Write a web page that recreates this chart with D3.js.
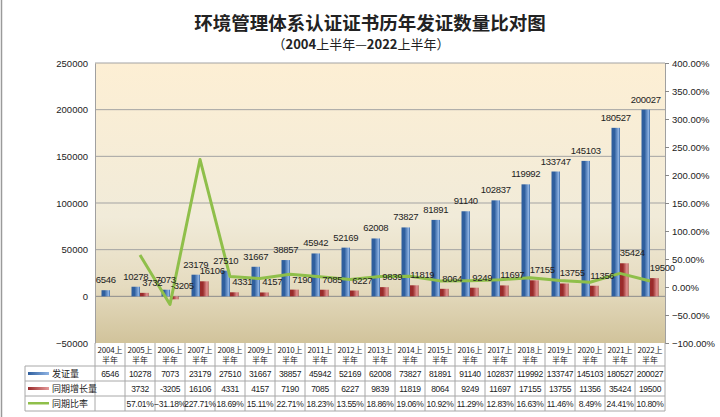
<!DOCTYPE html>
<html>
<head>
<meta charset="utf-8">
<script src="https://cdn.jsdelivr.net/npm/d3@7"></script>
<style>
  body { margin: 0; background: #fff; }
  text { font-family: "Liberation Sans", Arial, sans-serif; fill: #222; }
  .cjk { font-family: "Noto Sans CJK SC", sans-serif; }
</style>
</head>
<body>
<div id="chart"></div>
<script>
var svgWidth = 720;
var svgHeight = 417;

// plot area
var margin = { top: 63, right: 55, bottom: 74, left: 95 };
var width = svgWidth - margin.left - margin.right;
var height = svgHeight - margin.top - margin.bottom;

// data
var years = ["2004", "2005", "2006", "2007", "2008", "2009", "2010", "2011", "2012", "2013",
    "2014", "2015", "2016", "2017", "2018", "2019", "2020", "2021", "2022"];
var issued = [6546, 10278, 7073, 23179, 27510, 31667, 38857, 45942, 52169, 62008,
    73827, 81891, 91140, 102837, 119992, 133747, 145103, 180527, 200027];
var growth = [null, 3732, -3205, 16106, 4331, 4157, 7190, 7085, 6227, 9839,
    11819, 8064, 9249, 11697, 17155, 13755, 11356, 35424, 19500];
var rate = [null, 0.5701, -0.3118, 2.2771, 0.1869, 0.1511, 0.2271, 0.1823, 0.1355, 0.1886,
    0.1906, 0.1092, 0.1129, 0.1283, 0.1663, 0.1146, 0.0849, 0.2441, 0.1080];
var leftTicks = [-50000, 0, 50000, 100000, 150000, 200000, 250000];
var rightTicks = [-1, -0.5, 0, 0.5, 1, 1.5, 2, 2.5, 3, 3.5, 4];
var seriesNames = ["发证量", "同期增长量", "同期比率"];

var svg = d3.select("#chart")
    .append("svg")
    .attr("width", svgWidth)
    .attr("height", svgHeight);

var defs = svg.append("defs");

var bg = defs.append("linearGradient").attr("id", "bg")
    .attr("x1", 0).attr("y1", 0).attr("x2", 0).attr("y2", 1);
bg.append("stop").attr("offset", "0%").attr("stop-color", "#fdefd4");
bg.append("stop").attr("offset", "55%").attr("stop-color", "#f1ebd9");
bg.append("stop").attr("offset", "80%").attr("stop-color", "#e5dbbf");
bg.append("stop").attr("offset", "100%").attr("stop-color", "#d1c39b");

function barGradient(id, dark, light) {
    var g = defs.append("linearGradient").attr("id", id)
        .attr("x1", 0).attr("y1", 0).attr("x2", 1).attr("y2", 0);
    g.append("stop").attr("offset", "0%").attr("stop-color", dark);
    g.append("stop").attr("offset", "35%").attr("stop-color", dark);
    g.append("stop").attr("offset", "85%").attr("stop-color", light);
    g.append("stop").attr("offset", "100%").attr("stop-color", dark);
}
barGradient("blueBar", "#2f5f9e", "#8fb4e4");
barGradient("redBar", "#9a2b2b", "#e59a9a");

// left frame line
svg.append("line")
    .attr("x1", 1.5).attr("x2", 1.5).attr("y1", 0).attr("y2", svgHeight)
    .attr("stroke", "#9a9a9a").attr("stroke-width", 1.5);

// title
svg.append("text")
    .attr("class", "cjk")
    .attr("x", 370).attr("y", 30)
    .attr("text-anchor", "middle")
    .attr("font-size", "18.5px")
    .attr("font-weight", "bold")
    .text("环境管理体系认证证书历年发证数量比对图");

var sub = svg.append("text")
    .attr("class", "cjk")
    .attr("x", 361).attr("y", 49)
    .attr("text-anchor", "middle")
    .attr("font-size", "13px");
sub.append("tspan").text("（");
sub.append("tspan").attr("font-weight", "bold").text("2004");
sub.append("tspan").text("上半年—");
sub.append("tspan").attr("font-weight", "bold").text("2022");
sub.append("tspan").text("上半年）");

var chartGroup = svg.append("g")
    .attr("transform", `translate(${margin.left}, ${margin.top})`);

// scales
var xBandScale = d3.scaleBand()
    .domain(years)
    .range([0, width]);

var yLinearScale = d3.scaleLinear()
    .domain([-50000, 250000])
    .range([height, 0]);

var yRateScale = d3.scaleLinear()
    .domain([-1, 4])
    .range([height, 0]);

chartGroup.append("rect")
    .attr("width", width).attr("height", height)
    .attr("fill", "url(#bg)");

// gridlines
chartGroup.selectAll(".grid")
    .data(leftTicks.slice(1))
    .enter()
    .append("line")
    .attr("x1", 0).attr("x2", width)
    .attr("y1", d => yLinearScale(d)).attr("y2", d => yLinearScale(d))
    .attr("stroke", d => d === 0 ? "#8c8c8c" : "#a3a3a3")
    .attr("stroke-width", 1);

// left axis
var leftAxis = d3.axisLeft(yLinearScale)
    .tickValues(leftTicks)
    .tickSize(0)
    .tickPadding(7)
    .tickFormat(d3.format("d"));
var yAxis = chartGroup.append("g").call(leftAxis);
yAxis.select(".domain").attr("stroke", "#a0a0a0");
yAxis.selectAll("text").attr("font-size", "9.5px").attr("fill", "#333");

// right axis
var rightAxis = d3.axisRight(yRateScale)
    .tickValues(rightTicks)
    .tickSize(4)
    .tickPadding(3)
    .tickFormat(d => d3.format(".2f")(d * 100) + "%");
var yAxis2 = chartGroup.append("g")
    .attr("transform", `translate(${width}, 0)`)
    .call(rightAxis);
yAxis2.select(".domain").attr("stroke", "#a0a0a0");
yAxis2.selectAll("line").attr("stroke", "#888");
yAxis2.selectAll("text").attr("font-size", "9.5px").attr("fill", "#333");

var bw = 8.5;

// bars
chartGroup.selectAll(".issued")
    .data(issued)
    .enter()
    .append("rect")
    .attr("x", (d, i) => xBandScale(years[i]) + xBandScale.bandwidth() / 2 - bw)
    .attr("y", d => yLinearScale(d))
    .attr("width", bw)
    .attr("height", d => yLinearScale(0) - yLinearScale(d))
    .attr("fill", "url(#blueBar)");

var growthData = growth.map((d, i) => ({ year: years[i], v: d })).filter(d => d.v !== null);

chartGroup.selectAll(".growth")
    .data(growthData)
    .enter()
    .append("rect")
    .attr("x", d => xBandScale(d.year) + xBandScale.bandwidth() / 2)
    .attr("y", d => yLinearScale(Math.max(0, d.v)))
    .attr("width", bw)
    .attr("height", d => Math.abs(yLinearScale(0) - yLinearScale(d.v)))
    .attr("fill", "url(#redBar)");

// rate line
var rateData = rate.map((d, i) => ({ year: years[i], v: d })).filter(d => d.v !== null);
var line = d3.line()
    .x(d => xBandScale(d.year) + xBandScale.bandwidth() / 2)
    .y(d => yRateScale(d.v));

chartGroup.append("path")
    .datum(rateData)
    .attr("d", line)
    .attr("fill", "none")
    .attr("stroke", "#8fbf4a")
    .attr("stroke-width", 3)
    .attr("stroke-linejoin", "round");

// data labels
chartGroup.selectAll(".issuedLabel")
    .data(issued)
    .enter()
    .append("text")
    .attr("x", (d, i) => xBandScale(years[i]) + xBandScale.bandwidth() / 2 - bw / 2)
    .attr("y", d => yLinearScale(d) - 7)
    .attr("text-anchor", "middle")
    .attr("font-size", "9.5px")
    .attr("letter-spacing", "-0.3px")
    .attr("fill", "#333")
    .text(d => d);

chartGroup.selectAll(".growthLabel")
    .data(growthData)
    .enter()
    .append("text")
    .attr("x", d => xBandScale(d.year) + xBandScale.bandwidth() / 2 + bw / 2 + 8)
    .attr("y", d => yLinearScale(Math.max(0, d.v)) - 7)
    .attr("text-anchor", "middle")
    .attr("font-size", "9.5px")
    .attr("letter-spacing", "-0.3px")
    .attr("fill", "#333")
    .text(d => d.v);

// data table
var tableTop = height;
var headH = 23, rowH = 15;
var labelLeft = 25 - margin.left;
var tbl = chartGroup.append("g").attr("transform", `translate(0, ${tableTop})`);
var gridColor = "#a8a8a8";
var tableBottom = headH + rowH * 3;

// horizontal rules
[headH, headH + rowH, headH + rowH * 2, tableBottom].forEach(function (y) {
    tbl.append("line")
        .attr("x1", labelLeft).attr("x2", width)
        .attr("y1", y).attr("y2", y)
        .attr("stroke", gridColor);
});
// vertical rules
tbl.append("line")
    .attr("x1", labelLeft).attr("x2", labelLeft)
    .attr("y1", headH).attr("y2", tableBottom)
    .attr("stroke", gridColor);
years.concat(["end"]).forEach(function (y, i) {
    var x = i < years.length ? xBandScale(y) : width;
    tbl.append("line")
        .attr("x1", x).attr("x2", x)
        .attr("y1", 0).attr("y2", tableBottom)
        .attr("stroke", gridColor);
});

// header cells
years.forEach(function (y) {
    var cx = xBandScale(y) + xBandScale.bandwidth() / 2;
    tbl.append("text").attr("class", "cjk")
        .attr("x", cx).attr("y", 10)
        .attr("text-anchor", "middle").attr("font-size", "8px")
        .attr("letter-spacing", "-0.2px")
        .text(y + "上");
    tbl.append("text").attr("class", "cjk")
        .attr("x", cx).attr("y", 20)
        .attr("text-anchor", "middle").attr("font-size", "8px")
        .text("半年");
});

// row legends
var keyColors = ["url(#blueKey)", "url(#redKey)", "#8fbf4a"];
var bk = defs.append("linearGradient").attr("id", "blueKey");
bk.append("stop").attr("offset", "0%").attr("stop-color", "#2f5f9e");
bk.append("stop").attr("offset", "100%").attr("stop-color", "#8fb4e4");
var rk = defs.append("linearGradient").attr("id", "redKey");
rk.append("stop").attr("offset", "0%").attr("stop-color", "#9a2b2b");
rk.append("stop").attr("offset", "100%").attr("stop-color", "#e59a9a");

seriesNames.forEach(function (name, r) {
    var cy = headH + rowH * r + rowH / 2;
    tbl.append("rect")
        .attr("x", labelLeft + 3).attr("y", cy - 1.5)
        .attr("width", 21).attr("height", r === 2 ? 2.5 : 3)
        .attr("fill", keyColors[r]);
    tbl.append("text").attr("class", "cjk")
        .attr("x", labelLeft + 27).attr("y", cy + 3.5)
        .attr("font-size", "9px")
        .text(name);
});

var rows = [
    issued.map(d => d),
    growth.map(d => d === null ? "" : d),
    rate.map(d => d === null ? "" : d3.format(".2f")(d * 100) + "%")
];
rows.forEach(function (vals, r) {
    var cy = headH + rowH * r + rowH / 2;
    tbl.selectAll(".row" + r)
        .data(vals)
        .enter()
        .append("text")
        .attr("x", (d, i) => xBandScale(years[i]) + xBandScale.bandwidth() / 2)
        .attr("y", cy + 3.5)
        .attr("text-anchor", "middle")
        .attr("font-size", "8.5px")
        .attr("letter-spacing", "-0.3px")
        .text(d => d);
});
</script>
</body>
</html>
